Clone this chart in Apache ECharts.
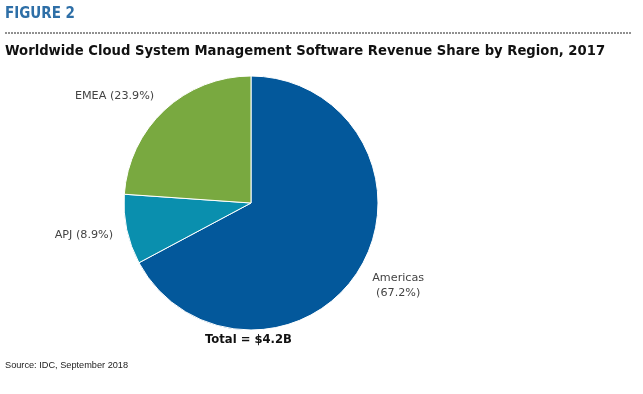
<!DOCTYPE html>
<html><head><meta charset="utf-8">
<script src="https://cdn.jsdelivr.net/npm/echarts@6/dist/echarts.min.js"></script>
<style>html,body{margin:0;padding:0;background:#fff}#c{width:643px;height:394px}</style>
</head><body><div id="c"></div>
<script>
const regions = ['Americas', 'APJ', 'EMEA'];
const shares = [67.2, 8.9, 23.9];
const colors = ['#03589B', '#0A8FAE', '#79A940'];
const totalText = 'Total = $4.2B';
const labelNudge = [{dx:19, dy:11, align:'center'}, {dx:7, dy:3}, {dx:7, dy:-5}];

const chart = echarts.init(document.getElementById('c'));
chart.setOption({
  animation: false,
  graphic: [
    {type:'text', left:5, top:7, style:{text:'FIGURE 2', font:'bold 15px "DejaVu Sans Condensed"', fill:'#2E6FA7'}},
    {type:'line', shape:{x1:5,y1:33,x2:632,y2:33}, style:{stroke:'#222', lineWidth:1, lineDash:[2,1]}},
    {type:'text', left:5, top:45, style:{text:'Worldwide Cloud System Management Software Revenue Share by Region, 2017', font:'bold 13.2px "DejaVu Sans"', fill:'#111'}},
    {type:'text', left:205, top:334, style:{text: totalText, font:'bold 11.6px "DejaVu Sans"', fill:'#111'}},
    {type:'text', left:5, top:361, style:{text:'Source: IDC, September 2018', font:'9.2px "Liberation Sans"', fill:'#222'}}
  ],
  series: [{
    type: 'pie',
    center: [251, 203],
    radius: [0, 127],
    startAngle: 90,
    clockwise: true,
    itemStyle: {borderColor:'#fff', borderWidth:1},
    label: {
      show: true, position: 'outside', color:'#444',
      fontFamily:'DejaVu Sans', fontSize:11.2, lineHeight:15,
      formatter: p => p.name === 'Americas' ? p.name + '\n(' + p.value.toFixed(1) + '%)' : p.name + ' (' + p.value.toFixed(1) + '%)'
    },
    labelLine: {show:false, length: 12, length2: 4},
    labelLayout: p => labelNudge[p.dataIndex],
    emphasis: {disabled:true},
    data: regions.map((r,i)=>({name:r, value:shares[i], itemStyle:{color:colors[i]}}))
  }]
});
</script></body></html>
